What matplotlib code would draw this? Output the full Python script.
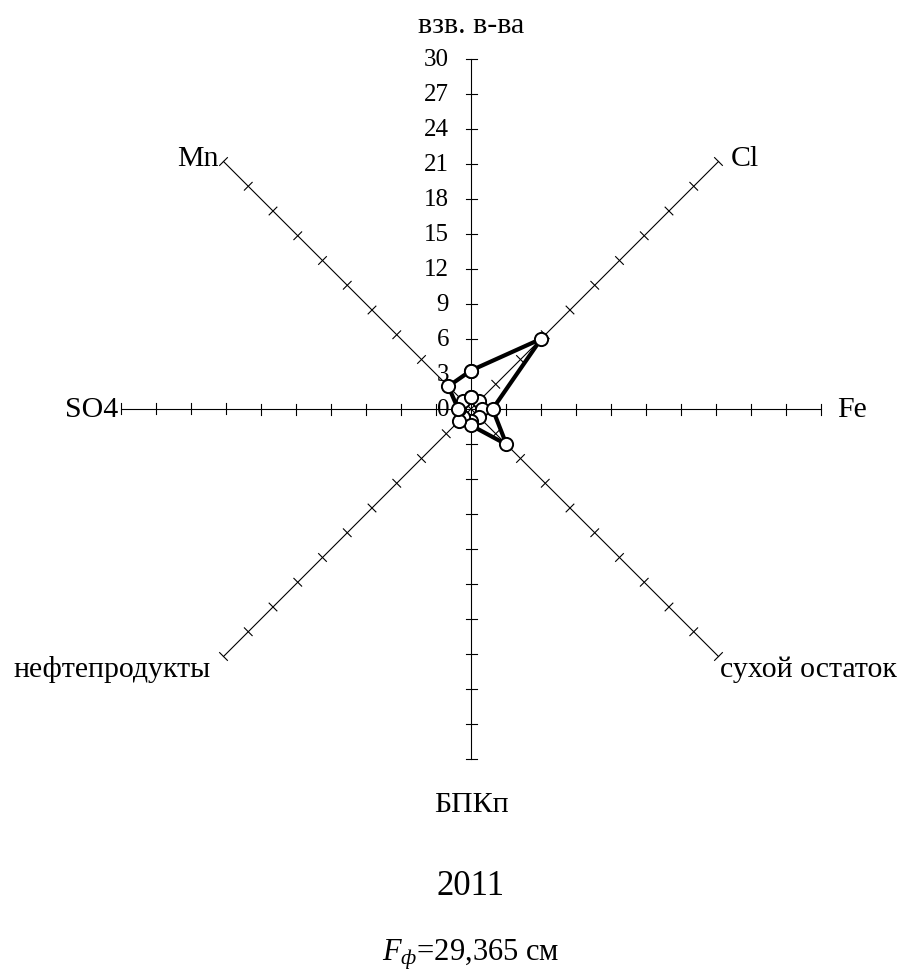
import numpy as np
import matplotlib
matplotlib.use("Agg")
import matplotlib.pyplot as plt

plt.rcParams['font.family'] = ['Liberation Serif', 'DejaVu Serif']
plt.rcParams['mathtext.fontset'] = 'custom'
plt.rcParams['mathtext.rm'] = 'Liberation Serif'
plt.rcParams['mathtext.it'] = 'Liberation Serif:italic'

# Indicators on the radar axes, clockwise from the top
categories = ['взв. в-ва', 'Cl', 'Fe', 'сухой остаток', 'БПКп',
              'нефтепродукты', 'SO4', 'Mn']
angles_deg = [90, 45, 0, -45, -90, -135, 180, 135]

# Observed values (multiples of the norm)
observed = [3.3, 8.5, 1.85, 4.3, 1.4, 1.45, 1.1, 2.75]
# Reference level
reference = [1.05, 1.0, 0.95, 1.0, 1.05, 1.0, 1.0, 1.0]

scale_ticks = list(range(0, 31, 3))
r_max = 30

year_label = '2011'
area_label = r'$F_{ф}$=29,365 см'

W, H = 913, 978
cx, cy = 471, 410           # centre in pixels
px_per_unit = 350 / r_max

fig = plt.figure(figsize=(W / 100, H / 100), dpi=100)
ax = fig.add_axes([0, 0, 1, 1])
ax.set_xlim(-cx / px_per_unit, (W - cx) / px_per_unit)
ax.set_ylim(-(H - cy) / px_per_unit, cy / px_per_unit)
ax.axis('off')

theta = np.deg2rad(angles_deg)
tick_half = 5.5 / px_per_unit

# axes with perpendicular tick marks
for t in theta:
    ux, uy = np.cos(t), np.sin(t)
    ax.plot([0, r_max * ux], [0, r_max * uy], color='black', lw=0.8, zorder=1)
    nx, ny = -uy, ux
    for r in scale_ticks[1:]:
        px, py = r * ux, r * uy
        ax.plot([px - tick_half * nx, px + tick_half * nx],
                [py - tick_half * ny, py + tick_half * ny],
                color='black', lw=0.8, zorder=1)

# scale labels along the upper axis
for r in scale_ticks:
    ax.text(-22 / px_per_unit, r, str(r), ha='right', va='center',
            fontsize=18, color='black')

# category labels
label_pos = {
    'взв. в-ва': (0, r_max + 34 / px_per_unit, 'center', 'center'),
    'Cl': (r_max * np.cos(np.pi / 4) + 12 / px_per_unit,
           r_max * np.sin(np.pi / 4) + 4 / px_per_unit, 'left', 'center'),
    'Fe': (r_max + 16 / px_per_unit, 0, 'left', 'center'),
    'сухой остаток': (r_max * np.cos(-np.pi / 4) + 2 / px_per_unit,
                      r_max * np.sin(-np.pi / 4) - 12 / px_per_unit, 'left', 'center'),
    'БПКп': (0, -r_max - 45 / px_per_unit, 'center', 'center'),
    'нефтепродукты': (r_max * np.cos(-3 * np.pi / 4) - 13 / px_per_unit,
                      r_max * np.sin(-3 * np.pi / 4) - 12 / px_per_unit, 'right', 'center'),
    'SO4': (-r_max - 3 / px_per_unit, 0, 'right', 'center'),
    'Mn': (r_max * np.cos(3 * np.pi / 4) - 5 / px_per_unit,
           r_max * np.sin(3 * np.pi / 4) + 4 / px_per_unit, 'right', 'center'),
}
for name in categories:
    x, y, ha, va = label_pos[name]
    ax.text(x, y, name, ha=ha, va=va, fontsize=21.5, color='black')


def closed_xy(values):
    v = np.asarray(values + values[:1], dtype=float)
    t = np.concatenate([theta, theta[:1]])
    return v * np.cos(t), v * np.sin(t)


# reference polygon
xr, yr = closed_xy(reference)
ax.plot(xr, yr, color='black', lw=2.4, marker='o', markersize=9.5,
        markerfacecolor='white', markeredgecolor='black',
        markeredgewidth=1.4, zorder=3)

# observed polygon
xo, yo = closed_xy(observed)
ax.plot(xo, yo, color='black', lw=3.0, marker='o', markersize=9.5,
        markerfacecolor='white', markeredgecolor='black',
        markeredgewidth=1.4, zorder=4)

# captions under the chart
ax.text(0, -(887 - cy) / px_per_unit, year_label, ha='center', va='center',
        fontsize=25, color='black')
ax.text(0, -(955 - cy) / px_per_unit, area_label, ha='center', va='center',
        fontsize=22, color='black')

fig.savefig('out.png', dpi=100)
